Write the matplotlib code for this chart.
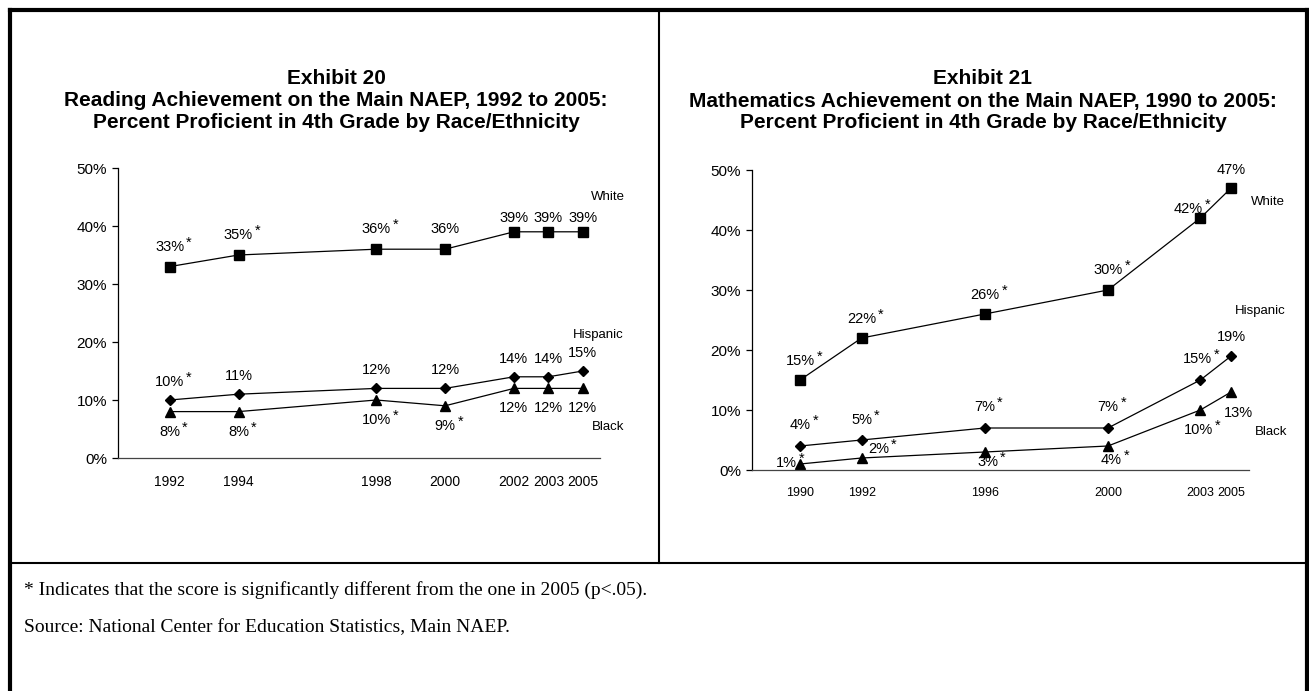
import matplotlib.pyplot as plt
from matplotlib.lines import Line2D

plt.rcParams['font.family'] = ['Liberation Sans', 'DejaVu Sans']

# Exhibit 20: reading (category axis with blank slots, like the original)
reading_axis = ['1992', '', '1994', '', '', '', '1998', '', '2000', '', '2002', '2003', '2005']
reading_years = ['1992', '1994', '1998', '2000', '2002', '2003', '2005']
reading_white = [33, 35, 36, 36, 39, 39, 39]
reading_hispanic = [10, 11, 12, 12, 14, 14, 15]
reading_black = [8, 8, 10, 9, 12, 12, 12]
reading_white_sig = [1, 1, 1, 0, 0, 0, 0]
reading_hispanic_sig = [1, 0, 0, 0, 0, 0, 0]
reading_black_sig = [1, 1, 1, 1, 0, 0, 0]

# Exhibit 21: mathematics
math_axis = ['1990', '', '1992', '', '', '', '1996', '', '', '', '2000', '', '', '2003', '2005']
math_years = ['1990', '1992', '1996', '2000', '2003', '2005']
math_white = [15, 22, 26, 30, 42, 47]
math_hispanic = [4, 5, 7, 7, 15, 19]
math_black = [1, 2, 3, 4, 10, 13]
math_sig = [1, 1, 1, 1, 1, 0]

W, H = 1309, 691


def fx(px):
    return px / W


def fy(py):
    return 1 - py / H


def value_label(ax, x, y, val, star, dx, dy, size=10.5):
    t = ax.annotate(f'{val}%', (x, y), xytext=(dx, dy), textcoords='offset pixels',
                    ha='center', va='center', fontsize=size)
    if star:
        ax.annotate('*', xy=(1, 0.8), xycoords=t, xytext=(2, 0), textcoords='offset pixels',
                    ha='left', va='center', fontsize=size)


def setup_axes(ax, axis_cats, xlim, tick_size):
    ax.set_xlim(*xlim)
    ax.set_ylim(0, 50)
    for s in ['top', 'right']:
        ax.spines[s].set_visible(False)
    ax.spines['left'].set_linewidth(0.9)
    ax.spines['bottom'].set_linewidth(0.9)
    ax.spines['bottom'].set_color('#444444')
    ax.set_yticks(range(0, 51, 10))
    ax.set_yticklabels([f'{v}%' for v in range(0, 51, 10)], fontsize=11)
    ticks = [i for i, c in enumerate(axis_cats) if c]
    ax.set_xticks(ticks)
    ax.set_xticklabels([axis_cats[i] for i in ticks], fontsize=tick_size)
    ax.tick_params(axis='y', length=4, width=0.9, direction='out', pad=4)
    ax.tick_params(axis='x', length=0, pad=12)
    ax.patch.set_alpha(0)


fig = plt.figure(figsize=(W / 100, H / 100), dpi=100)

# frame and dividers
fig.add_artist(Line2D([fx(10), fx(1307)], [fy(10), fy(10)], color='black', lw=3))
fig.add_artist(Line2D([fx(10), fx(10)], [fy(10), fy(H + 5)], color='black', lw=3))
fig.add_artist(Line2D([fx(1307), fx(1307)], [fy(10), fy(H + 5)], color='black', lw=3))
fig.add_artist(Line2D([fx(659), fx(659)], [fy(10), fy(563)], color='black', lw=1.5))
fig.add_artist(Line2D([fx(10), fx(1307)], [fy(563), fy(563)], color='black', lw=1.5))

title_kw = dict(ha='center', va='center', fontsize=15, fontweight='bold')
fig.text(fx(336), fy(79), 'Exhibit 20', **title_kw)
fig.text(fx(336), fy(101), 'Reading Achievement on the Main NAEP, 1992 to 2005:', **title_kw)
fig.text(fx(336), fy(123), 'Percent Proficient in 4th Grade by Race/Ethnicity', **title_kw)
fig.text(fx(983), fy(79), 'Exhibit 21', **title_kw)
fig.text(fx(983), fy(101), 'Mathematics Achievement on the Main NAEP, 1990 to 2005:', **title_kw)
fig.text(fx(983), fy(123), 'Percent Proficient in 4th Grade by Race/Ethnicity', **title_kw)

line_kw = dict(color='black', lw=0.9, clip_on=False)

# ---- left chart ----
ax1 = fig.add_axes([fx(118), fy(458), fx(600) - fx(118), fy(168) - fy(458)])
setup_axes(ax1, reading_axis, (-1.5, 12.5), 10)
rx = [reading_axis.index(y) for y in reading_years]
ax1.plot(rx, reading_white, marker='s', ms=6.5, **line_kw)
ax1.plot(rx, reading_hispanic, marker='D', ms=5.5, **line_kw)
ax1.plot(rx, reading_black, marker='^', ms=7, **line_kw)

for i in range(len(rx)):
    dy = 14 if i >= 4 else 20
    value_label(ax1, rx[i], reading_white[i], reading_white[i], reading_white_sig[i], 0, dy)
    value_label(ax1, rx[i], reading_hispanic[i], reading_hispanic[i], reading_hispanic_sig[i], 0, 18)
    value_label(ax1, rx[i], reading_black[i], reading_black[i], reading_black_sig[i], 0, -20)
ax1.annotate('White', (rx[-1], reading_white[-1]), xytext=(25, 35), textcoords='offset pixels',
             ha='center', va='center', fontsize=9.5)
ax1.annotate('Hispanic', (rx[-1], reading_hispanic[-1]), xytext=(15, 36), textcoords='offset pixels',
             ha='center', va='center', fontsize=9.5)
ax1.annotate('Black', (rx[-1], reading_black[-1]), xytext=(25, -39), textcoords='offset pixels',
             ha='center', va='center', fontsize=9.5)

# ---- right chart ----
ax2 = fig.add_axes([fx(752), fy(470), fx(1249) - fx(752), fy(170) - fy(470)])
setup_axes(ax2, math_axis, (-1.56, 14.58), 9)
mx = [math_axis.index(y) for y in math_years]
ax2.plot(mx, math_white, marker='s', ms=6.5, **line_kw)
ax2.plot(mx, math_hispanic, marker='D', ms=5.5, **line_kw)
ax2.plot(mx, math_black, marker='^', ms=7, **line_kw)

white_off = [(0, 19), (0, 19), (0, 19), (0, 20), (-12, 9), (0, 18)]
hisp_off = [(0, 21), (0, 20), (0, 21), (0, 21), (-3, 21), (0, 19)]
black_off = [(-14, 1), (17, 9), (3, -10), (3, -14), (-2, -20), (7, -21)]
for i in range(len(mx)):
    value_label(ax2, mx[i], math_white[i], math_white[i], math_sig[i], *white_off[i])
    value_label(ax2, mx[i], math_hispanic[i], math_hispanic[i], math_sig[i], *hisp_off[i])
    value_label(ax2, mx[i], math_black[i], math_black[i], math_sig[i], *black_off[i])
ax2.annotate('White', (mx[-1], math_white[-1]), xytext=(37, -14), textcoords='offset pixels',
             ha='center', va='center', fontsize=9.5)
ax2.annotate('Hispanic', (mx[-1], math_hispanic[-1]), xytext=(29, 45), textcoords='offset pixels',
             ha='center', va='center', fontsize=9.5)
ax2.annotate('Black', (mx[-1], math_black[-1]), xytext=(40, -40), textcoords='offset pixels',
             ha='center', va='center', fontsize=9.5)

# ---- footnotes ----
note_kw = dict(ha='left', va='center', fontsize=14, family=['Liberation Serif', 'DejaVu Serif'])
fig.text(fx(24), fy(590), '* Indicates that the score is significantly different from the one in 2005 (p<.05).', **note_kw)
fig.text(fx(24), fy(628), 'Source: National Center for Education Statistics, Main NAEP.', **note_kw)

fig.savefig('out.png', dpi=100)
